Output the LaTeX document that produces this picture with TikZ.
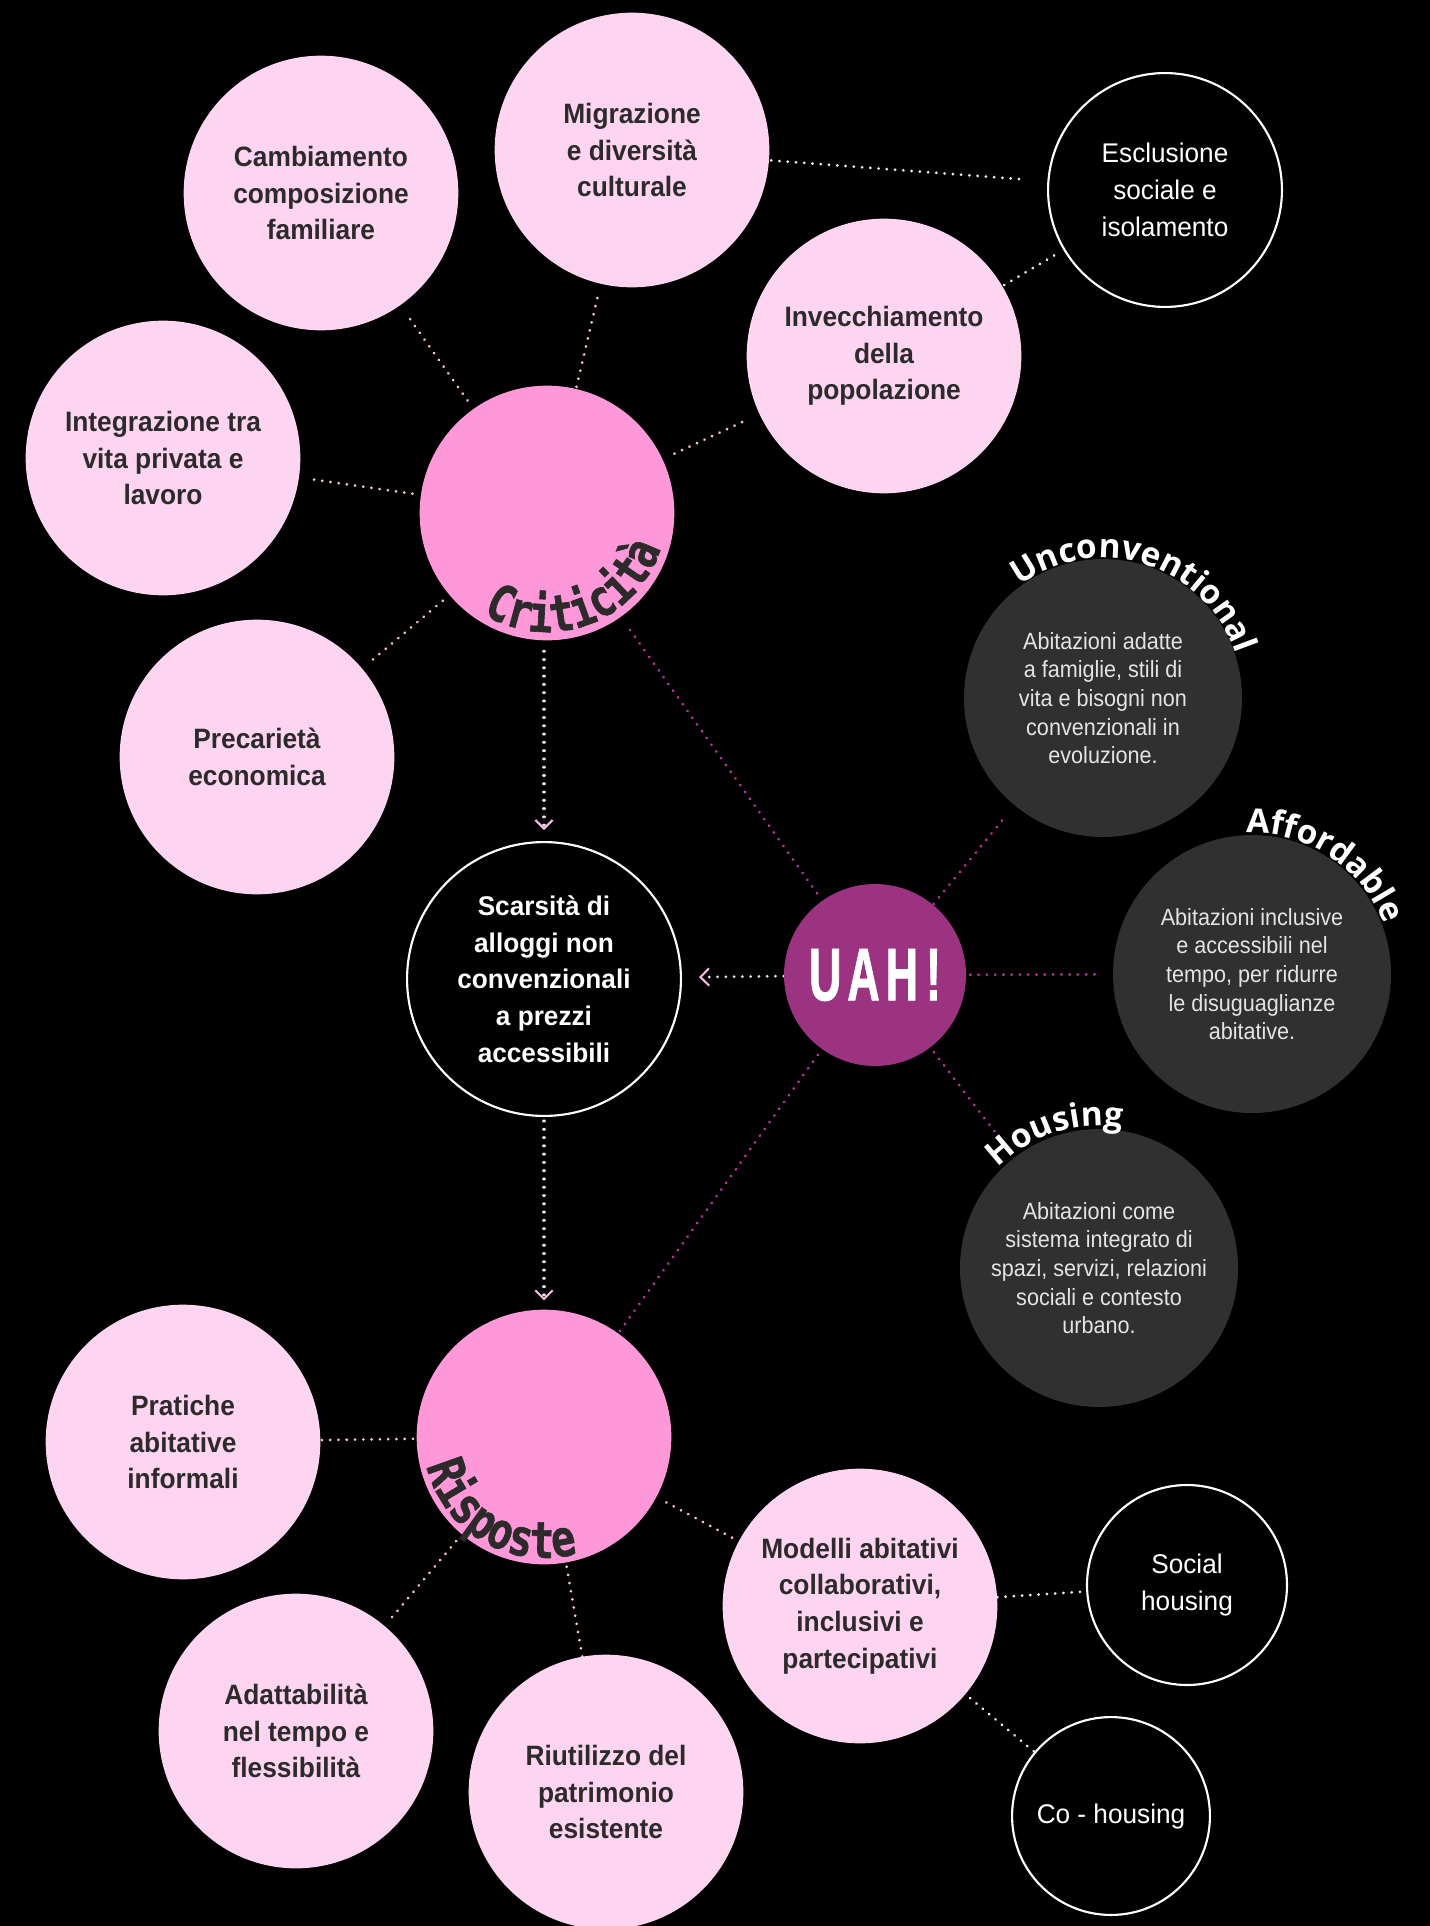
\documentclass[tikz,border=0pt]{standalone}
\usepackage{fontspec}
\setmainfont{Liberation Sans}
\newfontfamily\pinkf[FakeStretch=0.94]{Liberation Sans}
\newfontfamily\darkf[FakeStretch=0.92]{Liberation Sans}
\newfontfamily\whitef[FakeStretch=0.97]{Liberation Sans}
\newfontfamily\titlef{Open Sans}
\newfontfamily\monof[FakeStretch=0.8, FakeBold=1.2]{DejaVu Sans Mono}
\newfontfamily\uahf[FakeStretch=0.6, FakeBold=1]{Liberation Sans}
\usetikzlibrary{decorations.text,arrows.meta}
\pgfdeclarelayer{bgl}
\pgfdeclarelayer{linel}
\pgfsetlayers{bgl,linel,main}
\definecolor{palepink}{HTML}{FDD5F0}
\definecolor{hotpink}{HTML}{FF98D9}
\definecolor{uahpurple}{HTML}{9C3381}
\definecolor{darkgrey}{HTML}{303030}
\definecolor{inktext}{HTML}{2D2A2C}
\definecolor{dotpink}{HTML}{F7BCE2}
\definecolor{dotmag}{HTML}{C0339A}
\definecolor{dotwhite}{HTML}{EDEDED}
\definecolor{arrowline}{HTML}{F4DAEC}
\definecolor{arrowpink}{HTML}{F7BDE4}
\definecolor{lighttext}{HTML}{E4E4E4}
\tikzset{
  pinkc/.style={circle, fill=palepink, inner sep=0pt, minimum size=206pt, align=center,
    text=inktext, font=\pinkf\bfseries\fontsize{21}{27.5}\selectfont},
  hubc/.style={circle, fill=hotpink, inner sep=0pt, minimum size=191pt},
  darkc/.style={circle, fill=darkgrey, inner sep=0pt, minimum size=208.5pt, align=center,
    text=lighttext, font=\darkf\fontsize{17.6}{21.5}\selectfont},
  ringc/.style={circle, draw=white, line width=1.6pt, fill=black, inner sep=0pt, align=center,
    text=white, font=\whitef\fontsize{20.25}{27.75}\selectfont},
  scarsc/.style={ringc, font=\whitef\bfseries\fontsize{20.25}{27.5}\selectfont},
  uahc/.style={circle, fill=uahpurple, inner sep=0pt, minimum size=136.5pt,
    text=white, font=\uahf\bfseries\fontsize{56}{56}\selectfont},
  dotline/.style={line width=2.3pt, line cap=round, dash pattern=on 0.01pt off 6.2pt},
  pline/.style={dotline, draw=dotpink},
  mline/.style={dotline, draw=dotmag},
  wline/.style={dotline, draw=dotwhite},
  arr/.style={dotline, draw=arrowline,
    -{Straight Barb[length=6.5pt,width=13pt,line width=1.5pt,color=arrowpink]}},
  arctitle/.style={decorate, decoration={text along path, text align=center, text color=white,
    text={|\titlef\bfseries\fontsize{25}{25}\selectfont|#1}}},
  archub/.style={decorate, decoration={text along path, text align=center, text color=inktext,
    text={|\monof\bfseries\fontsize{38}{38}\selectfont|#1}}}
}
\begin{document}
\begin{tikzpicture}[x=0.75pt, y=-0.75pt]
\useasboundingbox (0,0) rectangle (1430,1926);
\begin{pgfonlayer}{bgl}
\fill[black] (0,0) rectangle (1430,1926);
\end{pgfonlayer}

% nodes
\node[pinkc] (camb) at (321,193) {Cambiamento\\composizione\\familiare};
\node[pinkc] (migr) at (632,150) {Migrazione\\e diversità\\culturale};
\node[ringc, minimum size=175.4pt] (escl) at (1165,190) {Esclusione\\sociale e\\isolamento};
\node[pinkc] (invec) at (884,356) {Invecchiamento\\della\\popolazione};
\node[pinkc] (integ) at (163,458) {Integrazione tra\\vita privata e\\lavoro};
\node[hubc] (crit) at (547,513) {};
\node[pinkc] (prec) at (257,757) {Precarietà\\economica};
\node[darkc] (unc) at (1103,698) {Abitazioni adatte\\a famiglie, stili di\\vita e bisogni non\\convenzionali in\\evoluzione.};
\node[darkc] (aff) at (1252,974) {Abitazioni inclusive\\e accessibili nel\\tempo, per ridurre\\le disuguaglianze\\abitative.};
\node[scarsc, minimum size=205.4pt] (scars) at (544,979) {Scarsità di\\alloggi non\\convenzionali\\a prezzi\\accessibili};
\node[uahc] (uah) at (875,975) {U\kern4.5pt A\kern4.5pt H\kern6pt !};
\node[darkc] (hous) at (1099,1268) {Abitazioni come\\sistema integrato di\\spazi, servizi, relazioni\\sociali e contesto\\urbano.};
\node[hubc] (risp) at (544,1437) {};
\node[pinkc] (prat) at (183,1442) {Pratiche\\abitative\\informali};
\node[pinkc] (mod) at (860,1606) {Modelli abitativi\\collaborativi,\\inclusivi e\\partecipativi};
\node[ringc, minimum size=150pt] (soc) at (1187,1585) {Social\\housing};
\node[pinkc] (adatt) at (296,1731) {Adattabilità\\nel tempo e\\flessibilità};
\node[pinkc] (riut) at (606,1792) {Riutilizzo del\\patrimonio\\esistente};
\node[ringc, minimum size=148.4pt] (cohous) at (1111,1816) {Co - housing};

% curved labels
\path[archub={Criticità}] (crit.center) ++(130:119) arc[start angle=130, end angle=10, radius=119];
\path[archub={Risposte}] (risp.center) ++(-185:121) arc[start angle=-185, end angle=-295, radius=121];
\path[arctitle={Unconventional}] (unc.center) ++(-142.5:140) arc[start angle=-142.5, end angle=-2.5, radius=140];
\path[arctitle={Affordable}] (aff.center) ++(-116.5:141) arc[start angle=-116.5, end angle=3.5, radius=141];
\path[arctitle={Housing}] (hous.center) ++(-168:142) arc[start angle=-168, end angle=-48, radius=142];

% connectors
\begin{pgfonlayer}{linel}
\draw[pline, shorten <=12.75pt, shorten >=2.6pt] (camb) -- (crit);
\draw[pline, shorten <=10.9pt, shorten >=1.5pt] (migr) -- (crit);
\draw[pline, shorten <=14.25pt, shorten >=3.75pt] (invec) -- (crit);
\draw[pline, shorten <=11.25pt, shorten >=1.5pt] (integ) -- (crit);
\draw[pline, shorten <=10.5pt, shorten >=4.5pt] (prec) -- (crit);
\draw[wline, shorten <=1.5pt, shorten >=15.75pt] (migr) -- (escl);
\draw[wline, shorten <=1.5pt, shorten >=8pt] (invec) -- (escl);
\draw[arr, shorten <=8pt, shorten >=8.25pt] (scars |- crit.south) -- (scars.north);
\draw[arr, shorten <=3pt, shorten >=6.75pt] (scars.south) -- (risp.north -| scars.south);
\draw[arr, shorten >=12.75pt] (uah) -- (scars);
\draw[mline, shorten <=6.75pt, shorten >=6.75pt] (uah) -- (crit);
\draw[mline, shorten <=0.75pt, shorten >=11.25pt] (uah) -- (unc);
\draw[mline, shorten <=3pt, shorten >=7.5pt] (uah) -- (aff);
\draw[mline, shorten <=4.5pt, shorten >=24pt] (uah) -- (hous);
\draw[mline, shorten <=5.25pt, shorten >=2.25pt] (uah) -- (risp);
\draw[pline, shorten <=1pt, shorten >=0.75pt] (prat) -- (risp);
\draw[pline, shorten <=8.6pt, shorten >=6pt] (adatt) -- (risp);
\draw[pline] (riut) -- (risp);
\draw[pline, shorten <=5.6pt, shorten >=4.1pt] (mod) -- (risp);
\draw[wline, shorten >=4.5pt] (mod) -- (soc);
\draw[wline, shorten <=4.5pt] (mod) -- (cohous);
\end{pgfonlayer}
\end{tikzpicture}
\end{document}
